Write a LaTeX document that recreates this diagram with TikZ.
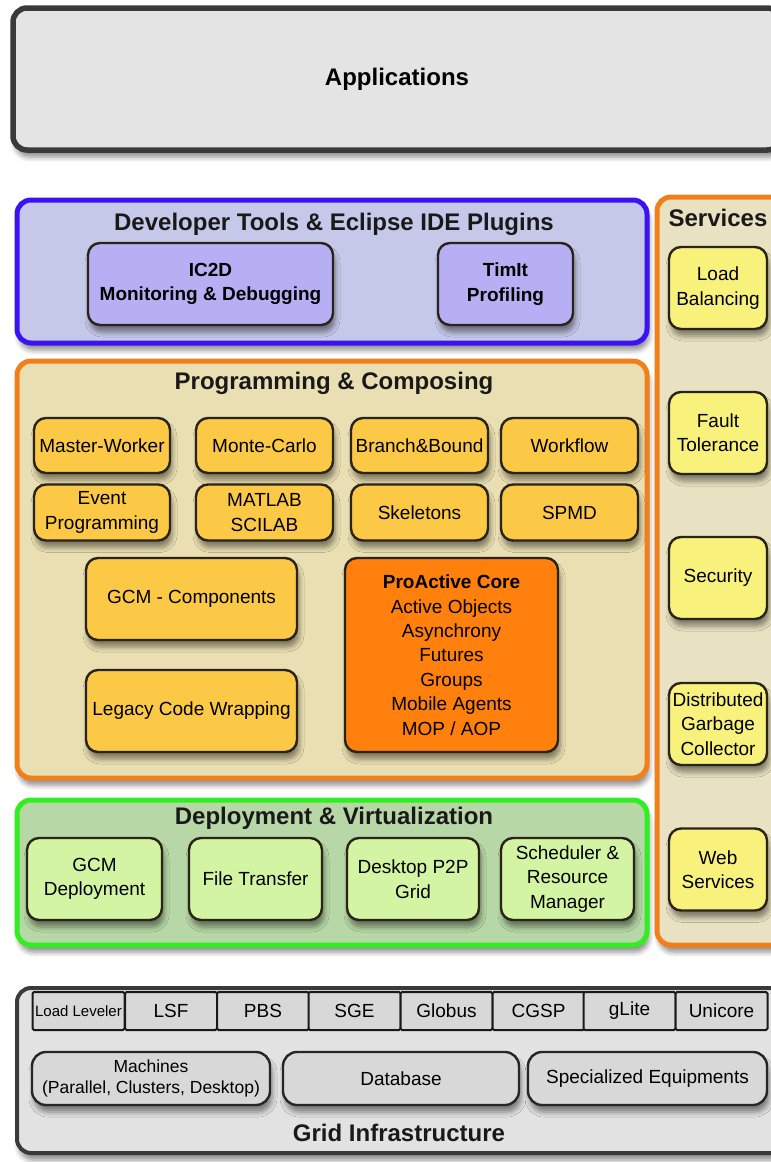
\documentclass[tikz,border=0pt]{standalone}
\usepackage{fontspec}
\setmainfont{Liberation Sans}
\usepackage{xcolor}
\usetikzlibrary{shadows.blur}

\definecolor{appfill}{HTML}{E4E4E4}
\definecolor{darkline}{HTML}{3A3A3A}
\definecolor{itemline}{HTML}{2A2418}
\definecolor{devline}{HTML}{3B12F2}
\definecolor{devfill}{HTML}{C6C8EA}
\definecolor{toolfill}{HTML}{B6AFF4}
\definecolor{orangeline}{HTML}{F2801A}
\definecolor{svcfill}{HTML}{E8E2C2}
\definecolor{svcitem}{HTML}{F8F17C}
\definecolor{progfill}{HTML}{EADFB2}
\definecolor{progitem}{HTML}{FCC946}
\definecolor{corefill}{HTML}{FF800C}
\definecolor{depline}{HTML}{30EE22}
\definecolor{depfill}{HTML}{B7D7A6}
\definecolor{depitem}{HTML}{D3F4A2}
\definecolor{gridfill}{HTML}{E2E2E2}
\definecolor{cellfill}{HTML}{D8D8D8}

\newcommand{\headfont}{\fontsize{24}{29}\selectfont\bfseries}
\newcommand{\boxfont}{\fontsize{19}{24.4}\selectfont}
\newcommand{\smallcell}{\fontsize{15}{18}\selectfont}

\begin{document}
\begin{tikzpicture}[x=1pt, y=-1pt,
    softshadow/.style={blur shadow={shadow xshift=2pt, shadow yshift=-7pt, shadow blur radius=5pt, shadow blur steps=5, shadow opacity=45}},
    panel/.style={draw, line width=5pt, rounded corners=14pt, softshadow},
    box/.style={draw=itemline, line width=2.4pt, rounded corners=12pt, align=center, font=\boxfont, softshadow},
    cell/.style={draw=black!90, line width=2pt, fill=cellfill, rounded corners=1.5pt, minimum width=92pt, minimum height=38pt, font=\boxfont},
    title/.style={font=\headfont, text=black!90}]
    \useasboundingbox (0,0) rectangle (771,1162);
    \clip (0,0) rectangle (771,1162);

    % Applications
    \node[panel, draw=darkline, line width=5.5pt, fill=appfill, minimum width=768pt, minimum height=142pt, font=\headfont] (apps) at (397,79) {Applications};

    % Developer tools
    \node[panel, draw=devline, fill=devfill, minimum width=630pt, minimum height=143pt] (dev) at (332,271.5) {};
    \node[title] (devtitle) at (334,224) {Developer Tools \& Eclipse IDE Plugins};
    \node[box, fill=toolfill, minimum width=245pt, minimum height=82pt, font=\boxfont\bfseries] (ic2d) at (210.5,284) {IC2D\\Monitoring \& Debugging};
    \node[box, fill=toolfill, minimum width=135pt, minimum height=82pt, font=\boxfont\bfseries] (timit) at (505.5,284) {TimIt\\Profiling};

    % Services column
    \node[panel, draw=orangeline, fill=svcfill, minimum width=133pt, minimum height=748pt] (svc) at (723.5,571) {};
    \node[title] (svctitle) at (718,218) {Services};
    \node[box, fill=svcitem, minimum width=98pt, minimum height=82pt] (load) at (718,288) {Load\\Balancing};
    \node[box, fill=svcitem, minimum width=98pt, minimum height=82pt] (fault) at (718,433) {Fault\\Tolerance};
    \node[box, fill=svcitem, minimum width=98pt, minimum height=82pt] (sec) at (718,578) {Security};
    \node[box, fill=svcitem, minimum width=98pt, minimum height=82pt, inner sep=1pt] (dgc) at (718,724) {Distributed\\Garbage\\Collector};
    \node[box, fill=svcitem, minimum width=98pt, minimum height=82pt] (web) at (718,869.5) {Web\\Services};

    % Programming and composing
    \node[panel, draw=orangeline, fill=progfill, minimum width=630pt, minimum height=417pt] (prog) at (332,569.5) {};
    \node[title] (progtitle) at (334,383) {Programming \& Composing};
    \node[box, fill=progitem, minimum width=136pt, minimum height=55pt, inner sep=1pt] (mw) at (102,445.5) {Master-Worker};
    \node[box, fill=progitem, minimum width=137pt, minimum height=55pt] (mc) at (264.5,445.5) {Monte-Carlo};
    \node[box, fill=progitem, minimum width=137pt, minimum height=55pt, inner sep=1pt] (bb) at (419.5,445.5) {Branch\&Bound};
    \node[box, fill=progitem, minimum width=137pt, minimum height=55pt] (wf) at (569.5,445.5) {Workflow};
    \node[box, fill=progitem, minimum width=136pt, minimum height=56pt, inner sep=1pt] (event) at (102,512.5) {Event\\Programming};
    \node[box, fill=progitem, minimum width=137pt, minimum height=56pt, inner sep=1pt] (matlab) at (264.5,512.5) {MATLAB\\SCILAB};
    \node[box, fill=progitem, minimum width=137pt, minimum height=56pt] (skel) at (419.5,512.5) {Skeletons};
    \node[box, fill=progitem, minimum width=137pt, minimum height=56pt] (spmd) at (569.5,512.5) {SPMD};
    \node[box, fill=progitem, minimum width=211pt, minimum height=82pt] (gcmc) at (191.5,599) {GCM - Components};
    \node[box, fill=progitem, minimum width=211pt, minimum height=82pt, inner sep=1pt] (legacy) at (191.5,711) {Legacy Code Wrapping};
    \node[box, fill=corefill, minimum width=213pt, minimum height=194pt] (core) at (451.5,655)
        {{\bfseries ProActive Core}\\Active Objects\\Asynchrony\\Futures\\Groups\\Mobile Agents\\MOP / AOP};

    % Deployment and virtualization
    \node[panel, draw=depline, fill=depfill, minimum width=630pt, minimum height=145pt] (dep) at (332,872.5) {};
    \node[title] (deptitle) at (334,818) {Deployment \& Virtualization};
    \node[box, fill=depitem, minimum width=135pt, minimum height=82pt] (gcmd) at (94.5,879) {GCM\\Deployment};
    \node[box, fill=depitem, minimum width=133pt, minimum height=82pt] (ft) at (255.5,879) {File Transfer};
    \node[box, fill=depitem, minimum width=132pt, minimum height=82pt] (p2p) at (413,879) {Desktop P2P\\Grid};
    \node[box, fill=depitem, minimum width=133pt, minimum height=82pt] (sched) at (567.5,879) {Scheduler \&\\Resource\\Manager};

    % Grid infrastructure
    \node[panel, draw=darkline, line width=4pt, fill=gridfill, minimum width=773pt, minimum height=165pt] (grid) at (403.5,1070.5) {};
    \node[title] (gridtitle) at (399,1133) {Grid Infrastructure};
    \node[cell, font=\smallcell, inner sep=0pt] (ll) at (78.5,1011) {Load Leveler};
    \node[cell] (lsf) at (171,1011) {LSF};
    \node[cell] (pbs) at (263,1011) {PBS};
    \node[cell] (sge) at (354.5,1011) {SGE};
    \node[cell] (globus) at (446.5,1011) {Globus};
    \node[cell] (cgsp) at (538.5,1011) {CGSP};
    \node[cell] (glite) at (629.5,1011) {gLite};
    \node[cell] (unicore) at (721.5,1011) {Unicore};
    \node[box, draw=black!85, fill=cellfill, rounded corners=14pt, minimum width=238pt, minimum height=53pt, font=\fontsize{17.5}{20.5}\selectfont, inner sep=1pt] (mach) at (151,1078.5) {Machines\\(Parallel, Clusters, Desktop)};
    \node[box, draw=black!85, fill=cellfill, rounded corners=14pt, minimum width=236pt, minimum height=53pt] (db) at (401,1078.5) {Database};
    \node[box, draw=black!85, fill=cellfill, rounded corners=14pt, minimum width=239pt, minimum height=53pt] (equip) at (647.5,1078.5) {Specialized Equipments};
\end{tikzpicture}
\end{document}
